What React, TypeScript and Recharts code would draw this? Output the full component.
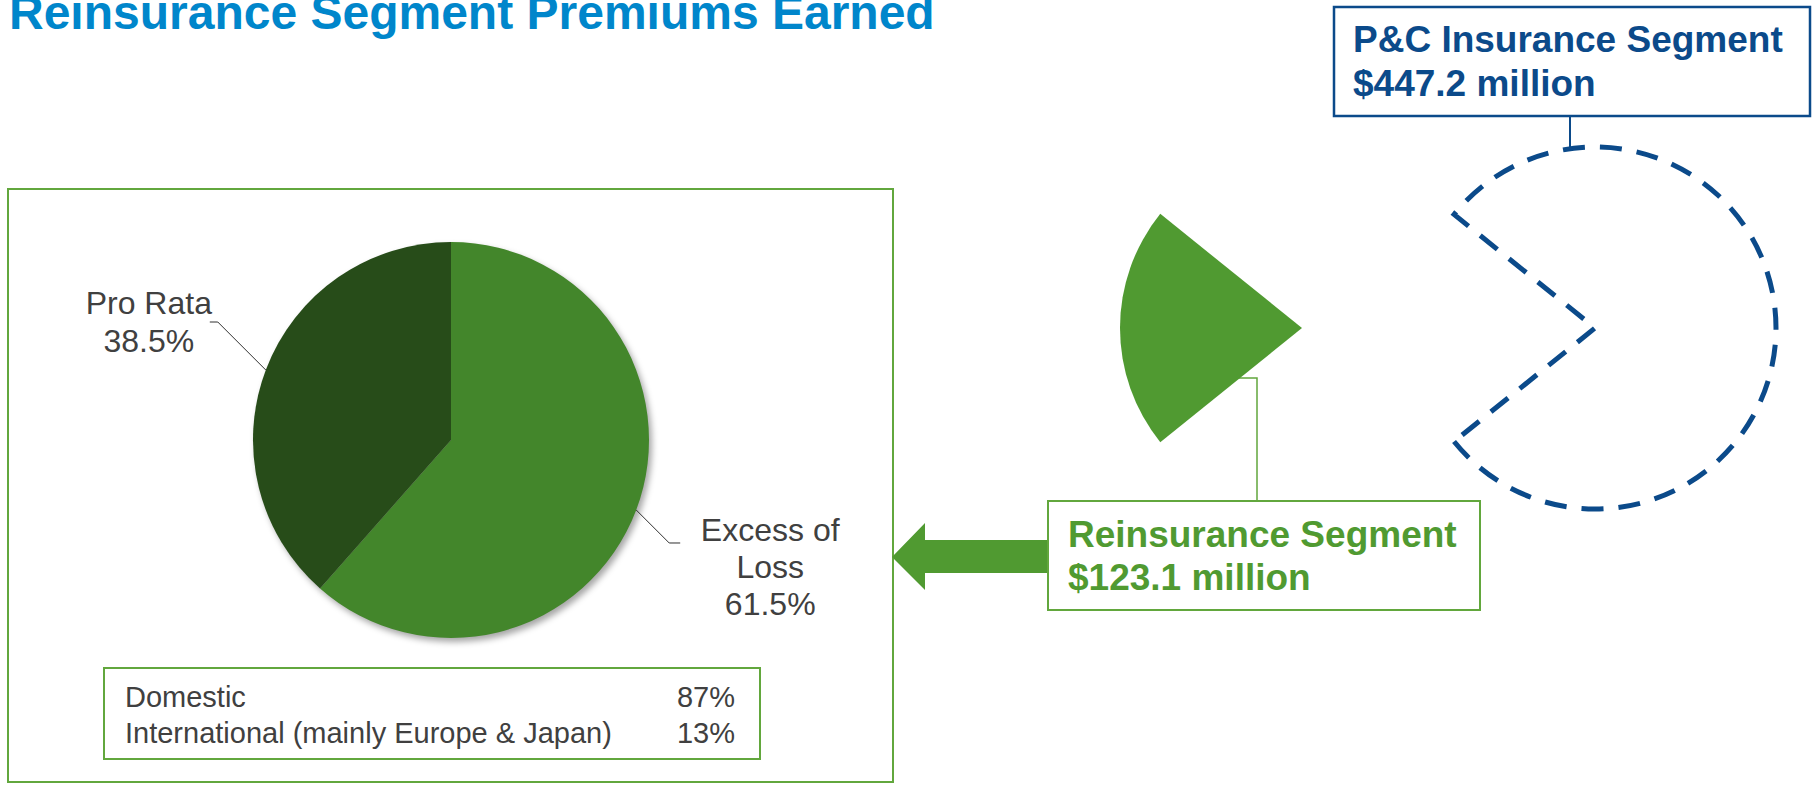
import React from "react";
import { PieChart, Pie, Cell } from "recharts";

// reinsurance mix (left pie)
const mixNames = ["Excess of Loss", "Pro Rata"];
const mixLabelLines = [["Excess of", "Loss"], ["Pro Rata"]];
const mixShares = [61.5, 38.5];

// premiums earned by segment ($ million)
const segmentNames = ["Reinsurance Segment", "P&C Insurance Segment"];
const segmentValues = [123.1, 447.2];

// geographic split table
const regionNames = ["Domestic", "International (mainly Europe & Japan)"];
const regionShares = [87, 13];

const FONT = '"Liberation Sans", Arial, Helvetica, sans-serif';
const TITLE_BLUE = "#0086cb";
const NAVY = "#0b4a8a";
const SEG_GREEN = "#509a31";
const BOX_GREEN = "#62a73d";
const MIX_COLORS = ["#43862b", "#274c19"];
const TEXT = "#404040";

const RAD = Math.PI / 180;

const mixData = mixNames.map((name, i) => ({
  name,
  lines: mixLabelLines[i],
  value: mixShares[i],
}));

const segmentData = segmentNames.map((name, i) => ({ name, value: segmentValues[i] }));

// reinsurance slice is centred on the left (180deg)
const segTotal = segmentValues.reduce((a, b) => a + b, 0);
const segStart = 180 - (180 * segmentValues[0]) / segTotal;

const MixLabel = (props: any) => {
  const { cx, cy, midAngle, outerRadius, payload, value } = props;
  const ex = cx + outerRadius * Math.cos(-midAngle * RAD);
  const ey = cy + outerRadius * Math.sin(-midAngle * RAD);
  const left = ex < cx;
  const lines: string[] = [...payload.lines, `${value}%`];
  if (left) {
    const bx = ex - 48;
    const by = ey - 48;
    const tx = bx - 8;
    return (
      <g>
        <polyline points={`${ex},${ey} ${bx},${by} ${tx},${by}`} fill="none" stroke="#303030" strokeWidth={1} />
        {lines.map((l, i) => (
          <text key={i} x={tx - 61} y={by - 8 + i * 37.5} textAnchor="middle" fontSize={32} fill={TEXT} fontFamily={FONT}>
            {l}
          </text>
        ))}
      </g>
    );
  }
  const bx = ex + 33;
  const by = ey + 33;
  const tx = bx + 11;
  return (
    <g>
      <polyline points={`${ex},${ey} ${bx},${by} ${tx},${by}`} fill="none" stroke="#303030" strokeWidth={1} />
      {lines.map((l, i) => (
        <text key={i} x={tx + 90} y={by - 2 + i * 37} textAnchor="middle" fontSize={32} fill={TEXT} fontFamily={FONT}>
          {l}
        </text>
      ))}
    </g>
  );
};

export default function App() {
  return (
    <div style={{ position: "absolute", left: 0, top: 0, width: 1812, height: 785, background: "#fff", fontFamily: FONT }}>
      <svg width={1812} height={785} style={{ position: "absolute", left: 0, top: 0 }}>
        <defs>
          <filter id="pieShadow" x="-20%" y="-20%" width="140%" height="140%">
            <feGaussianBlur stdDeviation="3" />
          </filter>
        </defs>

        <text x={9} y={29} fontSize={48} fontWeight="bold" fill={TITLE_BLUE} fontFamily={FONT}>
          Reinsurance Segment Premiums Earned
        </text>

        {/* left panel */}
        <rect x={8} y={189} width={885} height={593} fill="none" stroke={BOX_GREEN} strokeWidth={2} />
        <rect x={104} y={668} width={656} height={91} fill="none" stroke={BOX_GREEN} strokeWidth={2} />
        {regionNames.map((r, i) => (
          <g key={r}>
            <text x={125} y={707 + i * 36} fontSize={29} fill={TEXT} fontFamily={FONT}>
              {r}
            </text>
            <text x={735} y={707 + i * 36} fontSize={29} fill={TEXT} textAnchor="end" fontFamily={FONT}>
              {regionShares[i]}%
            </text>
          </g>
        ))}

        {/* arrow */}
        <polygon
          points="892,557 925,523 925,540 1048,540 1048,573 925,573 925,590"
          fill={SEG_GREEN}
        />

        {/* reinsurance callout */}
        <polyline points="1238,378 1257,378 1257,501" fill="none" stroke={BOX_GREEN} strokeWidth={1.5} />
        <rect x={1048} y={501} width={432} height={109} fill="#fff" stroke={BOX_GREEN} strokeWidth={2} />
        <text x={1068} y={547} fontSize={37} fontWeight="bold" fill={SEG_GREEN} fontFamily={FONT}>
          {segmentNames[0]}
        </text>
        <text x={1068} y={590} fontSize={37} fontWeight="bold" fill={SEG_GREEN} fontFamily={FONT}>
          ${segmentValues[0]} million
        </text>

        {/* P&C callout */}
        <line x1={1570} y1={116} x2={1570} y2={148} stroke={NAVY} strokeWidth={2} />
        <rect x={1334} y={7} width={476} height={109} fill="#fff" stroke={NAVY} strokeWidth={2.5} />
        <text x={1353} y={52} fontSize={37} fontWeight="bold" fill={NAVY} fontFamily={FONT}>
          P&amp;C Insurance Segment
        </text>
        <text x={1353} y={96} fontSize={37} fontWeight="bold" fill={NAVY} fontFamily={FONT}>
          ${segmentValues[1]} million
        </text>
      </svg>

      <div style={{ position: "absolute", left: 0, top: 0 }}>
        <PieChart width={1812} height={785} margin={{ top: 0, right: 0, bottom: 0, left: 0 }}>
          {/* soft drop shadow under the mix pie */}
          <Pie
            data={mixData}
            dataKey="value"
            cx={454}
            cy={444}
            outerRadius={198}
            startAngle={90}
            endAngle={-270}
            stroke="none"
            isAnimationActive={false}
          >
            {mixData.map((d) => (
              <Cell key={d.name} fill="rgba(0,0,0,0.35)" filter="url(#pieShadow)" />
            ))}
          </Pie>
          <Pie
            data={mixData}
            dataKey="value"
            nameKey="name"
            cx={451}
            cy={440}
            outerRadius={198}
            startAngle={90}
            endAngle={-270}
            stroke="none"
            label={MixLabel}
            labelLine={false}
            isAnimationActive={false}
          >
            {mixData.map((d, i) => (
              <Cell key={d.name} fill={MIX_COLORS[i]} />
            ))}
          </Pie>

          {/* exploded reinsurance slice */}
          <Pie
            data={segmentData}
            dataKey="value"
            cx={1302}
            cy={328}
            outerRadius={182}
            startAngle={segStart}
            endAngle={segStart + 360}
            isAnimationActive={false}
          >
            {segmentData.map((d, i) => (
              <Cell key={d.name} fill={i === 0 ? SEG_GREEN : "none"} stroke="none" />
            ))}
          </Pie>

          {/* dashed outline of the P&C segment */}
          <Pie
            data={segmentData}
            dataKey="value"
            cx={1595}
            cy={328}
            outerRadius={181}
            startAngle={segStart}
            endAngle={segStart + 360}
            isAnimationActive={false}
          >
            {segmentData.map((d, i) => (
              <Cell
                key={d.name}
                fill="none"
                stroke={i === 1 ? NAVY : "none"}
                strokeWidth={5}
                strokeDasharray="22 15"
              />
            ))}
          </Pie>
        </PieChart>
      </div>
    </div>
  );
}
